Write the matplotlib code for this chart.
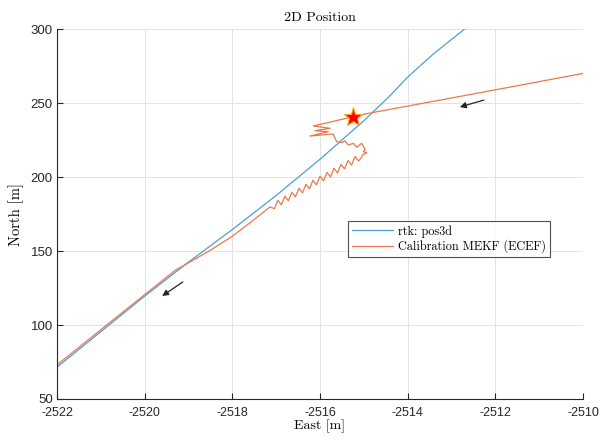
import matplotlib
import numpy as np

matplotlib.use('Agg')
import matplotlib.pyplot as plt

# rtk reference track (east, north)
rtk_east = [-2522.0, -2521.0, -2520.0, -2519.0, -2518.0, -2517.0, -2516.0,
            -2515.0, -2514.4, -2514.0, -2513.4, -2512.7]
rtk_north = [71.5, 95.5, 119.5, 142.5, 164.5, 187.5, 212.0,
             238.0, 255.0, 267.5, 283.5, 300.0]

# calibration MEKF track, listed from the right edge towards the lower left
mekf_east = [-2510.0, -2512.8, -2514.9, -2515.28,
             -2516.15, -2515.77, -2516.11, -2515.81, -2516.23, -2515.70,
             -2515.62, -2515.50, -2515.43, -2515.35, -2515.24, -2515.16,
             -2515.05, -2514.97, -2515.01, -2514.93, -2515.03, -2515.05,
             -2515.12, -2515.20, -2515.28, -2515.36, -2515.44, -2515.52,
             -2515.60, -2515.68, -2515.76, -2515.84, -2515.92, -2516.00,
             -2516.08, -2516.16, -2516.24, -2516.32, -2516.40, -2516.48,
             -2516.56, -2516.64, -2516.72, -2516.80, -2516.88, -2516.96,
             -2517.04, -2517.14, -2517.6, -2518.0, -2518.5, -2519.3,
             -2520.0, -2521.0, -2522.0]
mekf_north = [270.0, 254.5, 243.0, 240.5,
              234.5, 232.9, 231.3, 230.6, 227.7, 229.1,
              223.9, 223.2, 224.5, 221.6, 222.8, 220.1,
              222.8, 218.7, 217.1, 216.4, 214.9, 213.3,
              210.8, 213.9, 208.1, 211.2, 205.5, 208.5,
              202.8, 205.8, 200.1, 203.1, 197.4, 200.5,
              194.7, 197.8, 192.0, 195.1, 189.3, 192.4,
              186.6, 189.7, 184.0, 187.0, 181.3, 184.3,
              178.6, 179.8, 169.0, 160.0, 150.5, 137.0,
              120.5, 96.8, 73.0]

# start point of the filter
star_east, star_north = -2515.25, 240.8

# direction-of-travel arrows: (tail, head)
arrows = [((-2512.26, 252.0), (-2512.81, 247.3)),
          ((-2519.13, 129.1), (-2519.60, 119.6))]

x_ticks = [-2522, -2520, -2518, -2516, -2514, -2512, -2510]
y_ticks = [50, 100, 150, 200, 250, 300]

serif = ['cmr10', 'DejaVu Serif']
plt.rcParams['axes.formatter.use_mathtext'] = True
plt.rcParams['font.family'] = ['Liberation Sans', 'DejaVu Sans']

fig = plt.figure(figsize=(6.01, 4.40), dpi=100)
ax = fig.add_axes([0.0948, 0.0932, 0.8752, 0.8408])

ax.plot(rtk_east, rtk_north, color='#4c9fd7', lw=0.9, label='rtk: pos3d')
ax.plot(mekf_east, mekf_north, color='#e9784c', lw=0.9,
        label='Calibration MEKF (ECEF)')
ax.plot(star_east, star_north, marker='*', markersize=14,
        markerfacecolor='#ff0000', markeredgecolor='#f5a623',
        markeredgewidth=0.8, linestyle='none')

for tail, head in arrows:
    ax.annotate('', xy=head, xytext=tail,
                arrowprops=dict(arrowstyle='-|>', color='#222222', lw=0.9,
                                mutation_scale=9, shrinkA=0, shrinkB=0))

ax.set_xlim(-2522, -2510)
ax.set_ylim(50, 300)
ax.set_xticks(x_ticks)
ax.set_yticks(y_ticks)
ax.set_xticklabels([str(t) for t in x_ticks])
ax.set_yticklabels([str(t) for t in y_ticks])
ax.tick_params(direction='in', length=4, width=0.8, colors='#262626')
ax.tick_params(axis='x', labelsize=9, pad=6)
ax.tick_params(axis='y', labelsize=9.5, pad=3)

ax.grid(True, color='#e3e3e3', lw=0.7)
ax.set_axisbelow(True)
for side in ['top', 'right']:
    ax.spines[side].set_visible(False)
for side in ['left', 'bottom']:
    ax.spines[side].set_color('#262626')
    ax.spines[side].set_linewidth(0.8)

ax.set_title('2D Position', family=serif, fontsize=10, pad=6)
ax.set_xlabel('East [m]', family=serif, fontsize=10, labelpad=0)
ax.set_ylabel('North [m]', family=serif, fontsize=10.5, labelpad=5)

leg = ax.legend(loc='lower left', bbox_to_anchor=(0.553, 0.384),
                prop={'family': serif, 'size': 8.8}, frameon=True,
                fancybox=False, borderpad=0.3, labelspacing=0.15,
                handlelength=3.4, handletextpad=0.4, borderaxespad=0)
leg.get_frame().set_edgecolor('#262626')
leg.get_frame().set_linewidth(0.8)

plt.savefig('out.png', dpi=100)
plt.close('all')
